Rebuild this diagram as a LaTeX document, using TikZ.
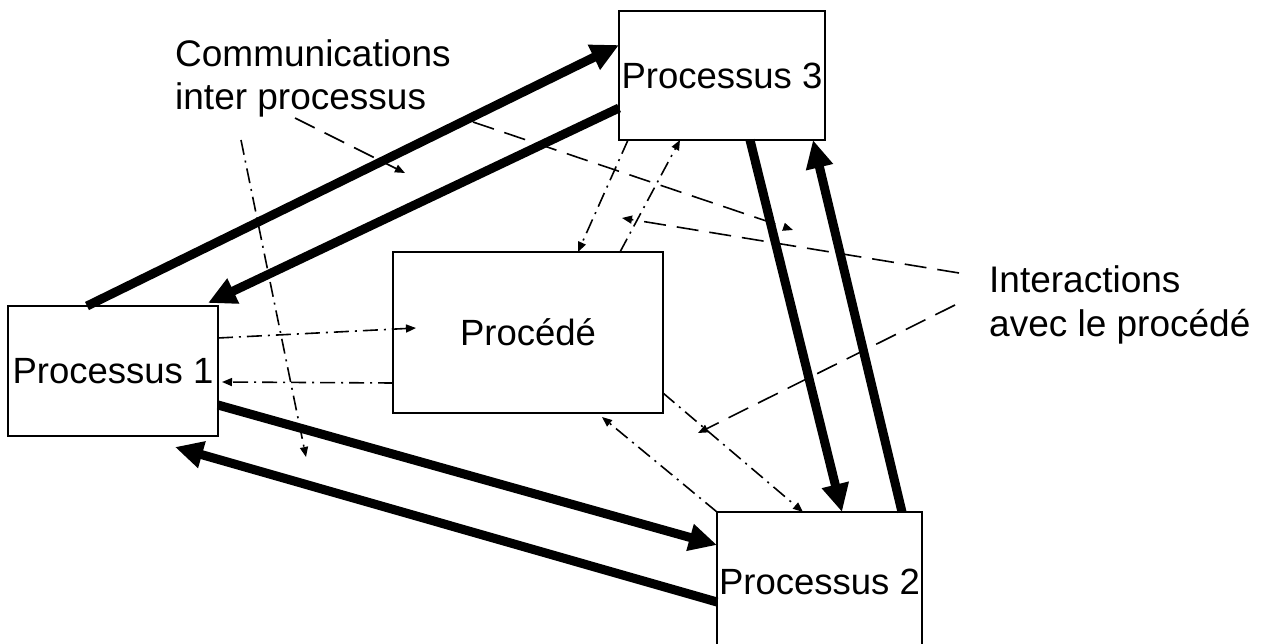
\documentclass[tikz,border=0pt]{standalone}
\usepackage{fontspec}
\setmainfont{Liberation Sans}
\usetikzlibrary{arrows.meta,calc}
\begin{document}
\begin{tikzpicture}[x=1pt,y=-1pt,
  box/.style={draw=black, line width=1.8pt, rectangle, inner sep=0pt, outer sep=0pt,
    font=\fontsize{36.5}{40}\selectfont},
  lbl/.style={inner sep=0pt, anchor=base west, font=\fontsize{37}{40}\selectfont},
  bigarrow/.style={line width=9pt, -{Triangle[length=28pt,width=26pt]}},
  ddarrow/.style={line width=1.6pt, dash pattern=on 15pt off 6pt on 2pt off 6pt,
    -{Triangle[length=10pt,width=8pt]}},
  dsharrow/.style={line width=1.6pt, dash pattern=on 22pt off 11pt,
    -{Triangle[length=10pt,width=8pt]}}]
\useasboundingbox (0,0) rectangle (1261,644);
\clip (0,0) rectangle (1261,644);

% boxes
\node[box, minimum width=210pt, minimum height=130pt] (p1) at (113,371) {Processus 1};
\node[box, minimum width=206pt, minimum height=129pt] (p3) at (722,75.5) {Processus 3};
\node[box, minimum width=270pt, minimum height=161pt] (pr) at (528,332.5) {Procédé};
\node[box, minimum width=205pt, minimum height=140pt] (p2) at (819.5,582) {Processus 2};

% labels
\node[lbl] (c1) at (175,67) {Communications};
\node[lbl] (c2) at (175,110) {inter processus};
\node[lbl] (i1) at (989,293) {Interactions};
\node[lbl] (i2) at (989,336) {avec le procédé};

% label line ends
\coordinate (m0) at (295,118);
\coordinate (m1) at (405,173);
\coordinate (n0) at (473,122);
\coordinate (n1) at (793,230);
\coordinate (o0) at (241,140);
\coordinate (o1) at (306,457);
\coordinate (q0) at (959,273);
\coordinate (q1) at (622,218);
\coordinate (r0) at (955,305);
\coordinate (r1) at (698,433);

% thick communication arrows
\draw[bigarrow] ($(p1.north west)+(79,0)$) -- ($(p3.north west)+(0,34)$);
\draw[bigarrow] ($(p3.north west)+(0,97)$) -- ($(p1.north east)+(-10,-3)$);
\draw[bigarrow] ($(p1.north east)+(0,99)$) -- ($(p2.north west)+(0,33)$);
\draw[bigarrow] ($(p2.north west)+(0,90)$) -- ($(p1.south east)+(-43,11)$);
\draw[bigarrow] ($(p3.south west)+(131,0)$) -- ($(p2.north west)+(125,0)$);
\draw[bigarrow] ($(p2.north west)+(185,0)$) -- ($(p3.south west)+(194,0)$);

% dash-dot process interactions
\draw[ddarrow] ($(p1.north east)+(0,32)$) -- ($(pr.north west)+(23,76)$);
\draw[ddarrow] ($(pr.north west)+(0,131)$) -- ($(p1.north east)+(4,76)$);
\draw[ddarrow] ($(p3.south west)+(9,0)$) -- ($(pr.north west)+(185,0)$);
\draw[ddarrow] ($(pr.north west)+(227,0)$) -- ($(p3.south west)+(61,0)$);
\draw[ddarrow] ($(pr.north east)+(0,141)$) -- ($(p2.north west)+(86,0)$);
\draw[ddarrow] (p2.north west) -- ($(pr.south west)+(209,4)$);

% label pointers
\draw[dsharrow] (m0) -- (m1);
\draw[dsharrow] (n0) -- (n1);
\draw[ddarrow] (o0) -- (o1);
\draw[dsharrow] (q0) -- (q1);
\draw[dsharrow] (r0) -- (r1);
\end{tikzpicture}
\end{document}
